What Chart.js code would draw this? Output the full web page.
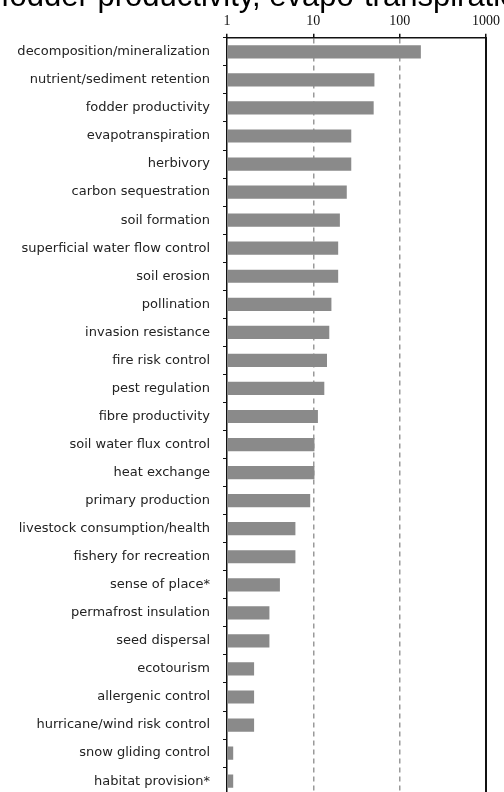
<!DOCTYPE html>
<html>
<head>
<meta charset="utf-8">
<script src="https://cdn.jsdelivr.net/npm/chart.js@4/dist/chart.umd.min.js"></script>
<style>
  html, body { margin: 0; padding: 0; background: #fff; overflow: hidden; }
  #wrap { width: 504px; height: 792px; overflow: hidden; }
</style>
</head>
<body>
<div id="wrap"><canvas id="servicesChart" width="504" height="816"></canvas></div>
<script>
const services = [
    'decomposition/mineralization', 'nutrient/sediment retention', 'fodder productivity',
    'evapotranspiration', 'herbivory', 'carbon sequestration', 'soil formation',
    'superficial water flow control', 'soil erosion', 'pollination', 'invasion resistance',
    'fire risk control', 'pest regulation', 'fibre productivity', 'soil water flux control',
    'heat exchange', 'primary production', 'livestock consumption/health', 'fishery for recreation',
    'sense of place*', 'permafrost insulation', 'seed dispersal', 'ecotourism', 'allergenic control',
    'hurricane/wind risk control', 'snow gliding control', 'habitat provision*'
]
const counts = [
    176, 51, 50, 27.5, 27.5, 24.4, 20.3, 19.4, 19.4, 16.2, 15.3, 14.4, 13.4, 11.3,
    10.3, 10.3, 9.2, 6.2, 6.2, 4.1, 3.1, 3.1, 2.06, 2.06, 2.06, 1.18, 1.18
]
const decadeTicks = [1, 10, 100, 1000]
const captionText = 'fodder productivity, evapo-transpiration'

// caption line cut off at the top of the picture
const captionPlugin = {
    id: 'caption',
    afterDraw(chart) {
        const ctx = chart.ctx
        ctx.save()
        ctx.fillStyle = '#000'
        ctx.font = '31px "Liberation Sans", Arial, sans-serif'
        ctx.textBaseline = 'alphabetic'
        ctx.textAlign = 'left'
        ctx.fillText(captionText, 1, 6)
        ctx.restore()
    }
}

const ctxChart = document.getElementById('servicesChart')

new Chart(ctxChart, {
    type: 'bar',
    data: {
        labels: services,
        datasets: [{
            data: counts,
            backgroundColor: '#8a8a8a',
            borderWidth: 0,
            barPercentage: 0.47,
            categoryPercentage: 1
        }]
    },
    plugins: [captionPlugin],
    options: {
        indexAxis: 'y',
        responsive: false,
        animation: false,
        layout: { padding: { top: 9, right: 16, bottom: 0, left: 0 } },
        plugins: {
            legend: { display: false },
            tooltip: { enabled: false }
        },
        scales: {
            x: {
                type: 'logarithmic',
                position: 'top',
                min: 1,
                max: 1000,
                afterBuildTicks: (scale) => {
                    scale.ticks = decadeTicks.map((v) => ({ value: v }))
                },
                ticks: {
                    color: '#111',
                    padding: 4,
                    maxRotation: 0,
                    font: { family: '"Liberation Serif", "Times New Roman", serif', size: 14 },
                    callback: (v) => String(v)
                },
                grid: {
                    color: (c) => (c.index === 1 || c.index === 2) ? '#9a9a9a' : 'rgba(0,0,0,0)',
                    lineWidth: 1.5,
                    tickColor: '#111',
                    tickLength: 4
                },
                border: { display: true, color: '#111', width: 1.5, dash: [5, 4] }
            },
            y: {
                type: 'category',
                position: 'left',
                afterFit: (scale) => { scale.width = 227 },
                ticks: {
                    color: '#222',
                    padding: 13,
                    font: { family: '"DejaVu Sans", Verdana, sans-serif', size: 13 }
                },
                grid: {
                    offset: true,
                    drawOnChartArea: false,
                    tickColor: '#111',
                    tickLength: 4
                },
                border: { display: true, color: '#111', width: 1.5 }
            },
            y2: {
                type: 'category',
                position: 'right',
                afterFit: (scale) => { scale.width = 0 },
                ticks: { display: false },
                grid: { display: false, drawTicks: false },
                border: { display: true, color: '#111', width: 2 }
            }
        }
    }
})
</script>
</body>
</html>
